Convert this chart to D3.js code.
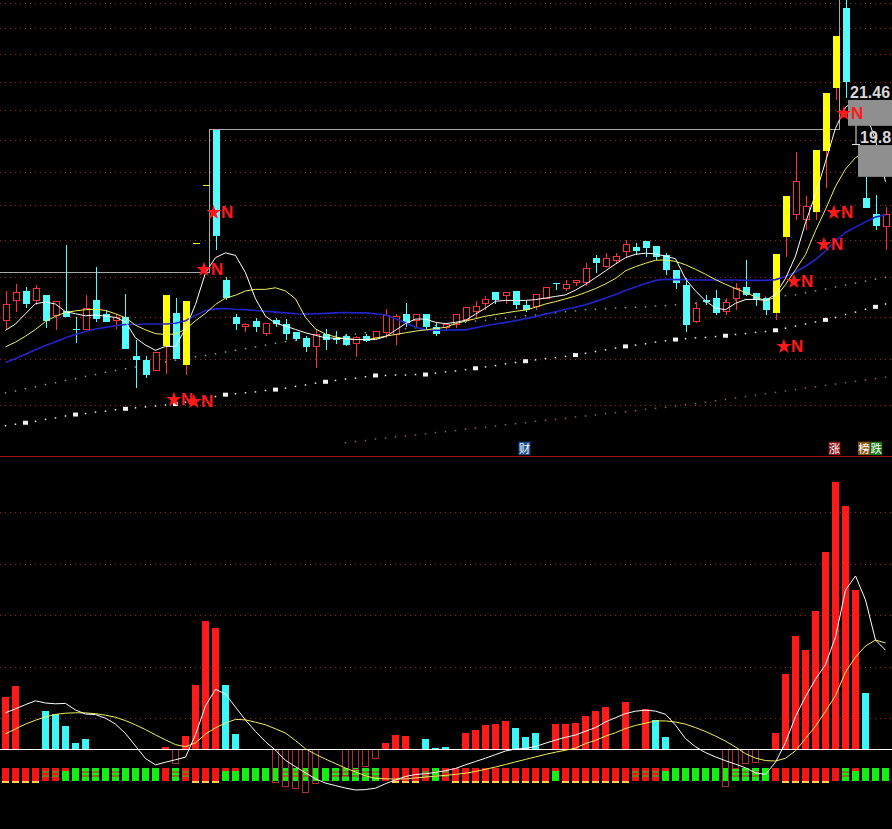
<!DOCTYPE html>
<html><head><meta charset="utf-8">
<script src="https://cdn.jsdelivr.net/npm/d3@7"></script>
<style>html,body{margin:0;padding:0;background:#000;overflow:hidden}</style>
</head><body><svg id="c" width="892" height="829"></svg>
<script>
// ---------- DATA ----------
const openP=[14.91,15.40,15.65,15.41,15.55,15.03,15.15,14.69,14.69,15.43,
15.08,14.91,15.00,14.08,13.99,13.75,14.30,15.10,13.88,16.92,
18.60,20.34,15.93,14.99,14.77,14.91,14.61,14.93,14.83,14.64,
14.50,14.29,14.60,14.49,14.54,14.36,14.54,14.50,14.62,14.58,
15.08,14.91,15.07,14.77,14.75,14.81,14.95,15.13,15.33,15.62,
15.54,15.65,15.30,15.26,15.45,15.86,15.72,15.86,15.86,16.51,
16.28,16.44,16.69,16.81,16.96,16.84,16.60,16.20,15.81,14.89,
15.43,15.47,15.13,15.45,15.75,15.60,15.47,15.11,17.09,17.71,
17.57,17.80,19.66,21.76,24.78,null,18.21,17.74,17.38];
const highP=[15.66,15.83,15.76,15.81,15.55,15.39,16.87,15.00,15.55,16.28,
15.18,15.08,15.58,14.46,14.08,14.15,15.54,15.48,15.39,16.92,
18.60,20.34,16.02,15.08,14.86,14.98,14.85,14.98,14.95,14.64,
14.54,14.69,14.72,14.67,14.58,14.54,14.58,14.65,15.20,15.08,
15.35,15.08,15.07,14.89,14.81,15.05,15.24,15.39,15.53,15.62,
15.60,15.65,15.39,15.55,15.75,15.86,15.93,15.91,16.38,16.58,
16.64,16.64,17.00,16.91,16.96,16.84,16.64,16.20,15.97,15.36,
15.55,15.68,15.47,15.85,16.46,15.60,15.47,16.62,18.25,19.63,
18.25,19.69,21.59,23.69,26.2,null,18.85,18.30,17.95];
const lowP=[14.69,15.13,15.21,15.30,14.74,14.69,15.01,14.39,14.69,14.89,
14.87,14.72,14.24,13.37,13.59,13.75,13.68,14.01,13.64,16.92,
18.60,16.73,15.43,14.69,14.63,14.63,14.55,14.76,14.46,14.42,
14.18,13.80,14.22,14.36,14.32,14.06,14.41,14.50,14.50,14.34,
14.77,14.74,14.72,14.55,14.69,14.73,14.89,14.97,15.18,15.33,
15.33,15.20,15.13,15.18,15.45,15.68,15.64,15.77,15.78,16.11,
16.24,16.38,16.51,16.60,16.54,16.46,16.06,15.70,14.65,14.85,
15.30,15.05,15.05,15.18,15.51,15.26,15.05,14.93,16.55,17.57,
17.28,17.57,18.50,21.35,21.41,null,17.91,17.28,16.73];
const closeP=[15.30,15.61,15.31,15.70,14.91,15.39,15.01,14.69,15.21,14.95,
14.87,15.00,14.24,13.99,13.66,14.15,15.54,14.01,15.39,16.92,
18.60,17.12,15.47,14.83,14.83,14.77,14.85,14.83,14.58,14.47,
14.29,14.58,14.46,14.46,14.34,14.50,14.43,14.65,15.03,15.01,
14.85,15.07,14.77,14.58,14.81,15.05,15.24,15.26,15.43,15.43,
15.60,15.30,15.18,15.55,15.75,15.83,15.81,15.91,16.24,16.39,
16.51,16.55,16.87,16.69,16.78,16.54,16.20,15.86,14.81,15.22,
15.36,15.09,15.37,15.72,15.55,15.41,15.16,16.62,18.25,18.70,
17.95,19.69,21.59,23.69,21.99,null,17.91,17.38,17.71];
const signalBars=[16,18,19,20,77,78,81,82,83];
const ma5=[14.68,14.83,15.08,15.33,15.37,15.32,15.13,15.08,15.03,15.05,
15.02,14.99,14.88,14.50,14.33,14.21,14.30,14.30,14.72,15.31,
16.12,16.52,16.65,16.58,16.12,15.45,15.02,14.85,14.78,14.70,
14.62,14.56,14.50,14.49,14.48,14.46,14.46,14.46,14.53,14.68,
14.84,14.95,14.95,14.87,14.84,14.87,14.92,15.07,15.22,15.39,
15.41,15.41,15.41,15.43,15.47,15.51,15.55,15.67,15.82,15.99,
16.17,16.35,16.52,16.61,16.64,16.62,16.56,16.49,15.96,15.65,
15.40,15.22,15.18,15.34,15.43,15.44,15.41,15.56,15.97,16.56,
17.49,18.31,19.31,20.39,21.10,21.34,20.94,20.00,18.69];
const ma10=[14.29,14.40,14.54,14.70,14.89,15.02,15.11,15.15,15.18,15.19,
15.16,15.08,14.98,14.80,14.69,14.60,14.58,14.59,14.70,14.91,
15.09,15.31,15.47,15.54,15.65,15.69,15.69,15.73,15.65,15.45,
14.99,14.71,14.59,14.52,14.48,14.46,14.46,14.49,14.54,14.58,
14.62,14.66,14.69,14.72,14.75,14.84,14.90,14.96,15.02,15.06,
15.10,15.14,15.17,15.24,15.32,15.38,15.45,15.52,15.61,15.71,
15.83,15.97,16.17,16.28,16.37,16.45,16.46,16.42,16.33,16.21,
16.08,15.94,15.82,15.71,15.61,15.50,15.40,15.49,15.81,16.20,
16.60,17.26,17.87,18.55,19.08,19.44,19.62,19.65,19.58];
const ma20=[13.93,14.02,14.12,14.22,14.32,14.41,14.50,14.58,14.65,14.71,
14.75,14.79,14.82,14.82,14.83,14.83,14.83,14.85,14.91,15.04,
15.16,15.20,15.21,15.19,15.18,15.16,15.14,15.12,15.10,15.08,
15.07,15.08,15.09,15.10,15.11,15.10,15.10,15.08,15.05,14.96,
14.86,14.75,14.69,14.68,14.68,14.69,14.69,14.74,14.79,14.83,
14.87,14.91,14.96,15.01,15.07,15.13,15.19,15.24,15.30,15.38,
15.47,15.56,15.66,15.75,15.84,15.92,15.95,15.94,15.94,15.93,
15.93,15.93,15.93,15.93,15.92,15.92,15.92,15.94,16.02,16.14,
16.29,16.47,16.70,16.98,17.21,17.36,17.51,17.65,17.71];
const dotLineA=[12.57,12.60,12.63,12.66,12.70,12.73,12.77,12.80,12.82,12.85,
12.87,12.90,12.92,12.94,12.96,12.98,13.00,13.02,13.06,13.10,
13.14,13.18,13.22,13.24,13.26,13.28,13.31,13.33,13.36,13.40,
13.43,13.47,13.50,13.53,13.56,13.58,13.61,13.64,13.64,13.65,
13.65,13.66,13.66,13.69,13.72,13.74,13.77,13.80,13.83,13.86,
13.90,13.93,13.96,13.99,14.02,14.04,14.07,14.10,14.14,14.18,
14.22,14.26,14.30,14.33,14.36,14.40,14.43,14.46,14.48,14.50,
14.51,14.53,14.55,14.58,14.60,14.63,14.65,14.68,14.73,14.78,
14.83,14.88,14.93,14.99,15.06,15.12,15.19,15.25,15.32];
const dotLineB=[13.26,13.30,13.35,13.39,13.44,13.48,13.53,13.57,13.62,13.66,13.71,13.75,
13.79,13.83,13.87,13.90,13.94,13.98,14.02,14.06,14.09,14.13,14.17,
14.21,14.25,14.29,14.33,14.37,14.41,
14.44,14.46,14.49,14.51,14.54,14.56,14.59,14.62,14.64,14.67,14.69,14.72,14.74,14.77,14.79,14.82,14.85,14.87,14.90,14.92,14.95,14.97,15.00,15.03,15.05,15.08,15.10,15.13,15.15,15.18,
15.19,15.20,15.22,15.23,15.24,15.25,15.27,15.28,
15.30,15.32,15.34,15.36,15.38,15.40,15.42,15.44,15.47,15.49,15.51,15.53,15.55,
15.60,15.65,15.70,15.75,15.80,15.85,15.90,15.95,16.00];
const dotLineCStart=34;
const dotLineC=[12.23,12.25,12.27,12.30,12.32,12.34,12.36,12.38,12.40,12.43,12.45,
12.47,12.50,12.52,12.54,12.56,12.59,12.61,12.63,12.66,12.68,12.70,12.72,12.75,12.77,12.79,12.82,12.84,12.86,12.88,12.91,12.93,12.95,
12.98,13.01,13.03,13.06,13.09,13.12,13.15,13.18,13.21,13.24,13.27,13.30,13.33,13.36,13.39,13.42,13.45,13.48,13.51,13.54,13.57,13.60];
const refSteps=[{start:0,price:16.12},{start:21,price:20.34},{start:84,price:26.5}];
const starBars=[16,18,19,20,77,78,81,82,83];
const starPrices=[13.13,13.08,16.22,17.80,14.32,15.91,16.89,17.80,20.90];
const badgeBars=[52,83,86,87];
const badgeShift=[-1,-1,-1.5,0.7];
const badgeTexts=["财","涨","榜","跌"];
const badgeColors=["#1d4f8c","#8a1616","#8a5514","#177a17"];
const priceTicks=[13,14,15,16,17,18,19,20,21,22,23,24,25];
const oscTicks=[12,32,52,72,92];
const oscBars=[20.3,24.5,0,0,14.8,13.6,8.9,2.4,3.9,0,
0,0,0,0,0,0,0.7,-5.6,5.0,24.9,
49.7,47.0,24.9,5.8,0,0,0,-13.1,-14.6,-15.3,
-17.0,-13.3,0,0,-10.1,-7.9,-6.9,-3.8,2.4,5.4,
5.0,0,3.9,0.4,0.8,0,6.3,7.4,9.3,9.7,
11.0,8.2,4.7,6.2,0,9.7,9.7,10.2,12.8,14.9,
16.4,0,18.4,0,15.4,11.3,4.8,0,0,0,
0,0,-14.4,-7.5,-5.6,-5.3,0,6.3,29.1,43.9,
38.4,53.6,76.5,103.7,94.4,61.7,21.9,0,0];
const oscColor="rr..ccccc.......r.rrrrcc..............rrr.ccc.rrrrrcccc.rrrrrr.r.ccc..........rrrrrrrrcc..";
const cellType="RRRROOgGQQGQGGGGrQORRRggGGGGQQQGGQQQQQrRRROQORRRRRRRRRRgRRRRRRROOOgGGGGGGQQQGrRRRRRrQgGG";
const oscWhite=[14.06,15.61,17.24,18.72,17.86,17.55,17.71,15.15,13.59,13.36,
11.96,9.67,6.02,1.17,-3.69,-6.17,-5.13,-4.16,-3.18,5.59,
16.74,23.18,21.36,16.27,11.22,6.83,2.83,-0.47,-4.43,-6.87,
-9.24,-11.61,-13.24,-14.21,-15.18,-15.92,-15.77,-15.22,-13.48,-12.0,
-10.68,-9.90,-9.59,-9.09,-8.43,-7.57,-6.14,-4.85,-3.57,-2.17,
-0.78,0,0.19,0.97,2.25,3.46,4.54,5.44,6.91,8.31,
10.52,12.16,13.75,14.68,15.07,14.72,13.48,9.28,4.04,0.85,
-1.40,-3.07,-4.54,-5.90,-7.30,-9.28,-9.86,-5.13,2.52,12.62,
20.31,27.11,32.82,43.5,61.7,67.2,57.9,42.3,38.4];
const oscYellow=[5.86,7.81,9.67,11.18,12.47,13.44,13.90,14.06,14.02,13.71,
13.13,12.31,11.03,9.36,7.53,5.48,3.53,1.71,0.89,2.37,
5.79,8.23,10.06,11.50,11.30,10.41,9.40,7.84,6.17,3.30,
0.08,-2.06,-3.92,-5.67,-7.42,-8.89,-10.41,-11.46,-11.57,-11.69,
-11.61,-11.22,-10.91,-10.56,-10.25,-9.86,-9.40,-8.74,-7.88,-6.99,
-6.02,-5.01,-4.04,-3.07,-2.10,-1.24,-0.47,0.35,2.10,3.34,
5.01,6.33,7.96,9.13,10.02,10.91,10.91,10.45,9.67,8.31,
6.80,5.01,3.07,0.78,-1.83,-3.53,-4.50,-4.66,-3.61,-0.70,
4.08,8.85,14.64,20.74,29.90,35.73,40.0,42.33,41.17];
const cellBand=[-7.5,-12.3,-13.1];
const annot={high:{bar:84,text:"21.46",price:21.46,boxTop:21.35,boxBot:20.47},
             low:{bar:85,text:"19.8",price:19.84,boxBot:18.84}};

// ---------- SCALES ----------
const W=892,H=829,N=closeP.length;
const svg=d3.select("#c");
svg.append("rect").attr("width",W).attr("height",H).attr("fill","#000");
const x=d3.scaleLinear().domain([0,N-1]).range([5.5,885.5]);
const y=d3.scaleLog().domain([13,24]).range([405,28]);
const yb=d3.scaleLinear().domain([0,100]).range([749,491.5]);
const defs=svg.append("defs");
defs.append("clipPath").attr("id","ct").append("rect").attr("x",0).attr("y",0).attr("width",W).attr("height",456);
defs.append("clipPath").attr("id","cb").append("rect").attr("x",0).attr("y",457).attr("width",W).attr("height",H-457);
const gTop=svg.append("g").attr("clip-path","url(#ct)");
const gBot=svg.append("g").attr("clip-path","url(#cb)");

const RED="#ff3232",CYAN="#54fcfc",YEL="#ffff00";

// grid
const gT=gTop.append("g").call(d3.axisLeft(y).tickValues(priceTicks).tickSize(-W).tickFormat(""));
gT.select(".domain").remove();
gT.selectAll("line").attr("stroke","#a02828").attr("stroke-dasharray","1 4").attr("shape-rendering","crispEdges");
const gB=gBot.append("g").call(d3.axisLeft(yb).tickValues(oscTicks).tickSize(-W).tickFormat(""));
gB.select(".domain").remove();
gB.selectAll("line").attr("stroke","#a02828").attr("stroke-dasharray","1 4").attr("shape-rendering","crispEdges");

svg.append("line").attr("x1",0).attr("x2",W).attr("y1",456.5).attr("y2",456.5).attr("stroke","#9a1414");

// dotted long lines
gTop.append("g").selectAll("rect").data(dotLineC).join("rect")
  .attr("x",(d,i)=>x(i+dotLineCStart)-0.75).attr("y",d=>y(d)-0.75).attr("width",1.5).attr("height",1.5).attr("fill","#8a6060");
gTop.append("g").selectAll("rect").data(dotLineB).join("rect")
  .attr("x",(d,i)=>x(i)-0.75).attr("y",d=>y(d)-0.75).attr("width",1.5).attr("height",1.5).attr("fill","#7fa07f");
gTop.append("g").selectAll("rect").data(dotLineA).join("rect")
  .attr("x",(d,i)=>i%5===2?x(i)-2.5:x(i)-0.75)
  .attr("y",(d,i)=>i%5===2?y(d)-2:y(d)-0.75)
  .attr("width",(d,i)=>i%5===2?5:1.5).attr("height",(d,i)=>i%5===2?4:1.5).attr("fill","#f0f0f0");

// reference step line
{
  let p=`M0,${y(refSteps[0].price)}`;
  for(let k=1;k<refSteps.length;k++){
    const xs=x(refSteps[k].start)-6.5;
    p+=`H${xs}V${y(refSteps[k].price)}`;
  }
  p+=`H${W}`;
  gTop.append("path").attr("d",p).attr("fill","none").attr("stroke","#a8a8a8").attr("stroke-width",1).attr("shape-rendering","crispEdges");
}

// candles
const sig=new Set(signalBars);
const cg=gTop.append("g").attr("shape-rendering","crispEdges");
for(let i=0;i<N;i++){
  const o=openP[i],h=highP[i],l=lowP[i],c=closeP[i];
  if(o==null) continue;
  const xc=Math.round(x(i))+0.5;
  const isSig=sig.has(i);
  const up=c>o;
  const wickCol=isSig?RED:(up?RED:CYAN);
  if(h!==l){
    cg.append("line").attr("x1",xc-0.5).attr("x2",xc-0.5).attr("y1",y(h)).attr("y2",y(l)).attr("stroke",wickCol);
  }
  const t=y(Math.max(o,c)),b=y(Math.min(o,c));
  if(isSig){
    const hh=Math.max(1.5,b-t);
    cg.append("rect").attr("x",xc-4).attr("y",t).attr("width",7).attr("height",hh).attr("fill",YEL);
  } else if(Math.abs(b-t)<1){
    cg.append("line").attr("x1",xc-4).attr("x2",xc+3).attr("y1",t).attr("y2",t).attr("stroke",up?RED:CYAN);
  } else if(up){
    cg.append("rect").attr("x",xc-3.5).attr("y",t).attr("width",6).attr("height",b-t).attr("fill","#000").attr("stroke",RED);
  } else {
    cg.append("rect").attr("x",xc-4).attr("y",t).attr("width",7).attr("height",b-t).attr("fill",CYAN);
  }
}

// MA lines
const ln=d3.line().x((d,i)=>x(i)).y(d=>y(d));
gTop.append("path").attr("d",ln(ma20)).attr("fill","none").attr("stroke","#2323c8").attr("stroke-width",1.6);
gTop.append("path").attr("d",ln(ma10)).attr("fill","none").attr("stroke","#f0f060").attr("stroke-width",1);
gTop.append("path").attr("d",ln(ma5)).attr("fill","none").attr("stroke","#ffffff").attr("stroke-width",1);

// annotations
{
  const a=annot.high,b=annot.low;
  const x1=x(a.bar)+2.5;
  gTop.append("rect").attr("x",x1).attr("y",y(a.boxTop)).attr("width",W-x1).attr("height",y(a.boxBot)-y(a.boxTop)).attr("fill","#8f8f8f");
  gTop.append("text").attr("x",x1+2).attr("y",y(a.price)+1.5).text(a.text)
    .attr("fill","#d8d8d8").attr("font-family","Liberation Sans, Arial, sans-serif").attr("font-weight","bold").attr("font-size",16);
  const xi=x(b.bar)+0.5;
  gTop.append("line").attr("x1",xi).attr("x2",xi).attr("y1",y(a.boxBot)).attr("y2",y(b.price)).attr("stroke","#e8e8e8");
  gTop.append("line").attr("x1",xi-4).attr("x2",xi+4).attr("y1",y(b.price)-0.5).attr("y2",y(b.price)-0.5).attr("stroke","#e8e8e8");
  const x2=x(b.bar)+2.5;
  gTop.append("rect").attr("x",x2).attr("y",y(b.price)).attr("width",W-x2).attr("height",y(b.boxBot)-y(b.price)).attr("fill","#8f8f8f");
  gTop.append("text").attr("x",x2+2).attr("y",y(b.price)-2).text(b.text)
    .attr("fill","#d8d8d8").attr("font-family","Liberation Sans, Arial, sans-serif").attr("font-weight","bold").attr("font-size",16);
}

// star labels
gTop.append("g").selectAll("text").data(starBars).join("text")
  .attr("x",d=>x(d)+0.5).attr("y",(d,k)=>y(starPrices[k])+6)
  .text("★N").attr("fill","#ff1a1a").attr("font-family","Liberation Sans, Arial, sans-serif")
  .attr("font-weight","bold").attr("font-size",17);

// badges
const bg=gTop.append("g");
badgeBars.forEach((b,k)=>{
  const cx=x(b)+badgeShift[k];
  bg.append("rect").attr("x",cx-5.9).attr("y",441.7).attr("width",11.8).attr("height",13.3).attr("fill",badgeColors[k]);
  bg.append("text").attr("x",cx).attr("y",453).attr("text-anchor","middle").text(badgeTexts[k])
    .attr("fill","#ffffff").attr("font-family","Noto Sans CJK SC").attr("font-size",11.5);
});

// ---------- bottom panel ----------
const cells=gBot.append("g").attr("shape-rendering","crispEdges");
const RC="#f41414",GC="#14ee14",OC="#7d7a1e";
for(let i=0;i<N;i++){
  const t=cellType[i];
  const cx=x(i)-3.7,cw=7.4;
  const yt=yb(cellBand[0]),yB=yb(cellBand[1]),yU=yb(cellBand[2]);
  const hh=yB-yt;
  const base=(t==="R"||t==="r"||t==="O")?RC:GC;
  cells.append("rect").attr("x",cx).attr("y",yt).attr("width",cw).attr("height",hh).attr("fill",base);
  if(t==="O"||t==="Q"){
    cells.append("rect").attr("x",cx).attr("y",yt+3).attr("width",cw).attr("height",2).attr("fill",OC);
    cells.append("rect").attr("x",cx).attr("y",yt+7).attr("width",cw).attr("height",2).attr("fill",OC);
  }
  if(t==="g"){
    cells.append("rect").attr("x",cx).attr("y",yt).attr("width",cw).attr("height",2.5).attr("fill",RC);
  }
  if(t==="R"){
    cells.append("rect").attr("x",cx).attr("y",yB).attr("width",cw).attr("height",yU-yB).attr("fill","#ffd050");
  }
}
const ob=gBot.append("g").attr("shape-rendering","crispEdges");
oscBars.forEach((v,i)=>{
  if(v>0){
    ob.append("rect").attr("x",x(i)-3.7).attr("y",yb(v)).attr("width",7.4).attr("height",yb(0)-yb(v))
      .attr("fill",oscColor[i]==="c"?"#3cf5f5":"#ff1a1a");
  } else if(v<0){
    ob.append("rect").attr("x",Math.round(x(i))-3.5).attr("y",yb(0)).attr("width",6).attr("height",yb(v)-yb(0))
      .attr("fill","none").attr("stroke","#a83030");
  }
});
gBot.append("line").attr("x1",0).attr("x2",W).attr("y1",yb(0)).attr("y2",yb(0)).attr("stroke","#ffffff").attr("shape-rendering","crispEdges");
const lb=d3.line().x((d,i)=>x(i)).y(d=>yb(d));
gBot.append("path").attr("d",lb(oscYellow)).attr("fill","none").attr("stroke","#f0f060").attr("stroke-width",1);
gBot.append("path").attr("d",lb(oscWhite)).attr("fill","none").attr("stroke","#ffffff").attr("stroke-width",1);
</script>
</body></html>
